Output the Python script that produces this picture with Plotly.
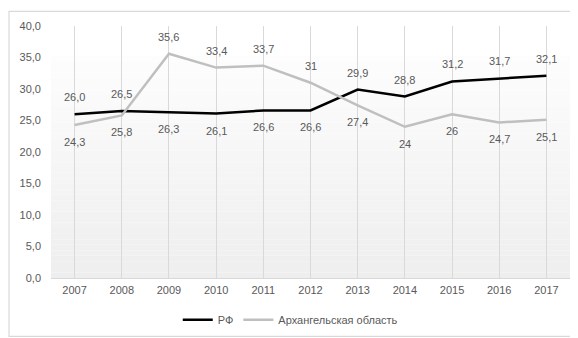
import plotly.graph_objects as go

years = [2007, 2008, 2009, 2010, 2011, 2012, 2013, 2014, 2015, 2016, 2017]
rf = [26.0, 26.5, 26.3, 26.1, 26.6, 26.6, 29.9, 28.8, 31.2, 31.7, 32.1]
arkh = [24.3, 25.8, 35.6, 33.4, 33.7, 31.0, 27.4, 24.0, 26.0, 24.7, 25.1]
rf_label_pos = ["up", "up", "down", "down", "down", "down", "up", "up", "up", "up", "up"]
arkh_label_pos = ["down", "down", "up", "up", "up", "up", "down", "down", "down", "down", "down"]
series_names = ["РФ", "Архангельская область"]
y_ticks = [0, 5, 10, 15, 20, 25, 30, 35, 40]

W, H = 578, 338
ML, MR, MT, MB = 43, 16, 16, 63
PW, PH = W - ML - MR, H - MT - MB

TXT = "#595959"
FONT = "Liberation Sans, Arial, sans-serif"

def fmt_rf(v):
    return f"{v:.1f}".replace(".", ",")

def fmt_arkh(v):
    return ("%g" % v).replace(".", ",")

fig = go.Figure()
fig.add_trace(go.Scatter(x=years, y=rf, mode="lines", name=series_names[0],
                         line=dict(color="#000000", width=2.5)))
fig.add_trace(go.Scatter(x=years, y=arkh, mode="lines", name=series_names[1],
                         line=dict(color="#bfbfbf", width=2.5)))

annotations = []
for x, v, p in zip(years, rf, rf_label_pos):
    annotations.append(dict(x=x, y=v, xref="x", yref="y", text=fmt_rf(v), showarrow=False,
                            yshift=17 if p == "up" else -17,
                            font=dict(size=11, color=TXT, family=FONT)))
for x, v, p in zip(years, arkh, arkh_label_pos):
    annotations.append(dict(x=x, y=v, xref="x", yref="y", text=fmt_arkh(v), showarrow=False,
                            yshift=17 if p == "up" else -17,
                            font=dict(size=11, color=TXT, family=FONT)))

# gradient plot-area background (styling)
shapes = []
n = 40
top_frac = 0.88
for i in range(n):
    f0 = i / n
    f1 = (i + 1) / n
    t = (f0 + f1) / 2
    c = int(round(253 - (253 - 238) * (1 - t)))
    shapes.append(dict(type="rect", xref="x domain", yref="y domain",
                       x0=0, x1=1, y0=f0 * top_frac, y1=f1 * top_frac,
                       fillcolor=f"rgb({c},{c},{c})", line=dict(width=0), layer="below"))
# outer chart border
shapes.append(dict(type="rect", xref="paper", yref="paper",
                   x0=(1 - ML) / PW, x1=(W - 2.5 - ML) / PW,
                   y0=(H - MB - (H - 3)) / PH, y1=(H - MB - 1) / PH,
                   line=dict(color="#d9d9d9", width=1.2), fillcolor="rgba(0,0,0,0)"))

fig.update_layout(
    width=W, height=H,
    margin=dict(l=ML, r=MR, t=MT, b=MB),
    paper_bgcolor="white", plot_bgcolor="white",
    separators=",.",
    font=dict(family=FONT, size=11, color=TXT),
    showlegend=True,
    legend=dict(orientation="h", x=0.461, xanchor="center", y=(H - MB - 318) / PH,
                yanchor="middle", font=dict(size=11, color=TXT, family=FONT),
                itemwidth=30, bgcolor="rgba(0,0,0,0)"),
    annotations=annotations,
    shapes=shapes,
)
fig.update_xaxes(range=[2006.5, 2017.5], tickmode="array", tickvals=years,
                 ticktext=[str(y) for y in years],
                 showgrid=True, gridcolor="#d9d9d9", gridwidth=1,
                 showline=True, linecolor="#d9d9d9", linewidth=1,
                 zeroline=False, ticks="", ticklabelstandoff=2,
                 tickfont=dict(size=11, color=TXT, family=FONT))
fig.update_yaxes(range=[0, 40], tickmode="array", tickvals=y_ticks, tickformat=".1f",
                 showgrid=False, zeroline=False, showline=False, ticks="",
                 ticklabelstandoff=9,
                 tickfont=dict(size=11, color=TXT, family=FONT))

fig.write_html("out.html")
